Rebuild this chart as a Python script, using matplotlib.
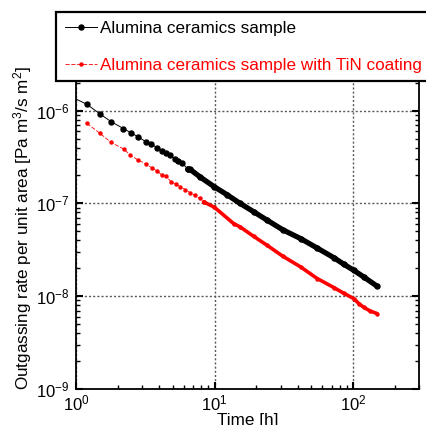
import matplotlib
matplotlib.use("Agg")
import matplotlib.pyplot as plt
from matplotlib.ticker import LogLocator, NullFormatter

plt.rcParams['font.family'] = ['Liberation Sans', 'DejaVu Sans']
plt.rcParams['mathtext.fontset'] = 'custom'
plt.rcParams['mathtext.rm'] = 'Liberation Sans'
plt.rcParams['mathtext.default'] = 'regular'

# Alumina ceramics sample (time in h, outgassing rate in Pa m3/s m2)
black_t = [0.85, 1.195, 1.49, 1.79, 2.20, 2.50, 2.81, 3.21, 3.49, 3.83, 4.17,
           4.48, 4.79, 5.20, 5.49, 5.81, 6.42]
black_q = [1.5e-6, 1.17e-6, 9.2e-7, 7.6e-7, 6.4e-7, 5.75e-7, 5.2e-7, 4.6e-7,
           4.35e-7, 4.0e-7, 3.7e-7, 3.45e-7, 3.29e-7, 2.98e-7, 2.85e-7,
           2.73e-7, 2.34e-7]
# dense part of the same record (markers merge into a band)
black_band_t = [6.42, 6.67, 7.88, 9.95, 12.3, 15.3, 19.2, 23.9, 31.0, 41.7,
                55.0, 72.5, 86.0, 101, 120, 149]
black_band_q = [2.34e-7, 2.32e-7, 1.92e-7, 1.51e-7, 1.24e-7, 9.98e-8, 8.1e-8,
                6.6e-8, 5.2e-8, 4.18e-8, 3.3e-8, 2.6e-8, 2.2e-8, 1.9e-8,
                1.6e-8, 1.28e-8]

# Alumina ceramics sample with TiN coating
red_t = [1.20, 1.49, 1.79, 2.21, 2.47, 2.82, 3.21, 3.53, 3.83, 4.17, 4.48,
         4.84, 5.29, 5.65, 6.14, 6.67, 7.17, 7.79, 8.32]
red_q = [7.27e-7, 5.68e-7, 4.54e-7, 3.85e-7, 3.31e-7, 2.92e-7, 2.65e-7,
         2.41e-7, 2.24e-7, 2.02e-7, 1.96e-7, 1.71e-7, 1.61e-7, 1.51e-7,
         1.41e-7, 1.30e-7, 1.23e-7, 1.13e-7, 1.04e-7]
red_band_t = [8.32, 9.95, 13.7, 15.3, 19.2, 23.9, 31.0, 41.7, 55.0, 72.5,
              86.0, 101, 110, 119, 133, 149]
red_band_q = [1.04e-7, 9.1e-8, 6.07e-8, 5.57e-8, 4.4e-8, 3.54e-8, 2.7e-8,
              2.07e-8, 1.55e-8, 1.24e-8, 1.07e-8, 9.42e-9, 8.3e-9, 7.6e-9,
              6.9e-9, 6.5e-9]

fig = plt.figure(figsize=(4.26, 4.25), dpi=100)
ax = fig.add_axes([0.1784, 0.0847, 0.8059, 0.7593])

l1, = ax.plot(black_t, black_q, '-', color='black', lw=0.7, marker='o',
              ms=3.6, label='Alumina ceramics sample')
ax.plot(black_band_t, black_band_q, '-', color='black', lw=3.8,
        marker='o', ms=3.6, solid_capstyle='round')
l2, = ax.plot(red_t, red_q, color='red', lw=0.6, ls=(0, (5, 2)), marker='o',
              ms=2.2, label='Alumina ceramics sample with TiN coating')
ax.plot(red_band_t, red_band_q, '-', color='red', lw=2.6, marker='o',
        ms=2.2, solid_capstyle='round')

ax.set_xscale('log')
ax.set_yscale('log')
ax.set_xlim(1, 300)
ax.set_ylim(1e-9, 3e-6)

ax.xaxis.set_minor_locator(LogLocator(base=10, subs=range(2, 10)))
ax.yaxis.set_minor_locator(LogLocator(base=10, subs=range(2, 10)))
ax.xaxis.set_minor_formatter(NullFormatter())
ax.yaxis.set_minor_formatter(NullFormatter())
ax.tick_params(which='both', direction='in', top=True, right=True,
               labelsize=12, width=1)
ax.tick_params(which='major', length=5, width=1.5)
ax.tick_params(which='minor', length=3)
ax.tick_params(axis='y', pad=5)
ax.tick_params(axis='x', pad=3)

ax.grid(True, which='major', ls=(0, (1.5, 1.5)), color='0.35', lw=1)
for s in ax.spines.values():
    s.set_linewidth(1.3)

ax.set_xlabel('Time [h]', fontsize=12.3, labelpad=0)
ax.set_ylabel('Outgassing rate per unit area [Pa m$^3$/s m$^2$]',
              fontsize=12.3, labelpad=1)

leg = fig.legend(handles=[l1, l2], loc='upper left',
                 bbox_to_anchor=(56 / 426, 1 - 12 / 425),
                 bbox_transform=fig.transFigure, borderaxespad=0,
                 fontsize=12.3, frameon=True, fancybox=False,
                 edgecolor='black', framealpha=1, borderpad=0.5,
                 labelspacing=1.3, handlelength=1.9, handletextpad=0.2,
                 labelcolor='linecolor')
leg.get_frame().set_linewidth(1.6)

plt.savefig('out.png', dpi=100)
